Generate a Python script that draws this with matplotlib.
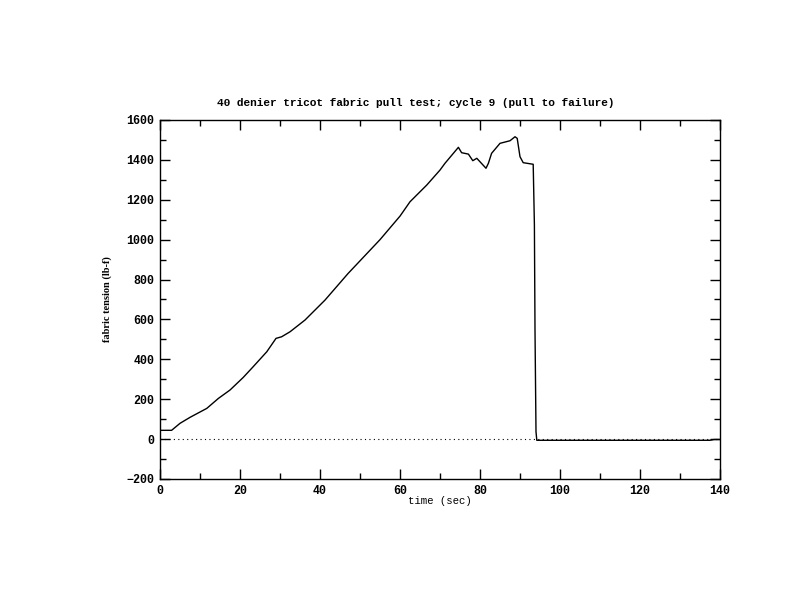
import matplotlib
matplotlib.use('Agg')
import matplotlib.pyplot as plt
from matplotlib.ticker import MultipleLocator

# pull test readings
time_s = [0, 2.9, 5.0, 7.5, 11.7, 14.6, 17.5, 20.8, 23.3, 26.7, 29.0, 30.4,
          32.5, 36.25, 41.25, 47.0, 55.0, 60.0, 62.5, 66.7, 70.0, 71.25,
          74.6, 75.4, 77.1, 78.2, 79.2, 81.5, 82.1, 82.9, 85.0, 87.5, 88.75,
          89.3, 90.0, 90.8, 93.3, 93.6, 93.75, 94.0, 94.2, 137.5, 138.5, 140.0]
tension = [44, 44, 79, 109, 154, 204, 246, 309, 363, 438, 505, 513,
           538, 597, 697, 830, 1000, 1118, 1190, 1274, 1349, 1383,
           1463, 1436, 1429, 1396, 1408, 1358, 1383, 1433, 1483, 1496, 1516,
           1508, 1416, 1386, 1378, 1073, 547, 37, -6, -6, -2, -2]

title = '40 denier tricot fabric pull test; cycle 9 (pull to failure)'
xlabel = 'time (sec)'
ylabel = 'fabric tension (lb-f)'

mono = 'Liberation Mono'

fig = plt.figure(figsize=(8, 6), dpi=100)
ax = fig.add_axes([0.2, 0.2017, 0.7, 0.5983])

ax.plot([0, 140], [0, 0], color='black', lw=0.8, ls=(0, (1, 3)))
ax.plot(time_s, tension, color='black', lw=1.0)

ax.set_xlim(0, 140)
ax.set_ylim(-200, 1600)
ax.xaxis.set_major_locator(MultipleLocator(20))
ax.xaxis.set_minor_locator(MultipleLocator(10))
ax.yaxis.set_major_locator(MultipleLocator(200))
ax.yaxis.set_minor_locator(MultipleLocator(100))
ax.tick_params(which='both', direction='in', top=True, right=True,
               width=1, labelsize=8.4, pad=4)
ax.tick_params(which='major', length=7)
ax.tick_params(which='minor', length=4)
for lab in ax.get_xticklabels() + ax.get_yticklabels():
    lab.set_family(mono)
    lab.set_fontweight('bold')
for sp in ax.spines.values():
    sp.set_linewidth(1)

# title sits a bit left of the axes centre in the original
ax.set_title(title, family=mono, fontweight='bold', fontsize=8, pad=10, x=0.457)
ax.set_xlabel(xlabel, family=mono, fontsize=7.7)
ax.set_ylabel(ylabel, family='Liberation Serif', fontsize=7.5, fontweight='bold')
ax.xaxis.set_label_coords(0.5, -0.047)
ax.yaxis.set_label_coords(-0.0857, 0.5)

fig.savefig('out.png', dpi=100)
